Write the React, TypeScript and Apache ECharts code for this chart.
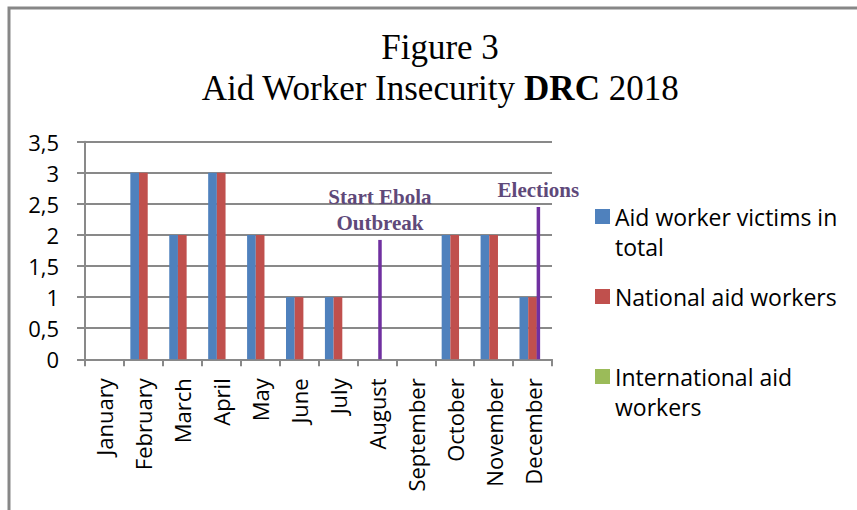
import React, { useEffect, useRef } from "react";
import * as echarts from "echarts";

// Monthly counts of aid worker victims, DRC 2018
const months = [
  "January", "February", "March", "April", "May", "June",
  "July", "August", "September", "October", "November", "December",
];
const victimsTotal = [0, 3, 2, 3, 2, 1, 1, 0, 0, 2, 2, 1];
const nationalWorkers = [0, 3, 2, 3, 2, 1, 1, 0, 0, 2, 2, 1];
const internationalWorkers = [0, 0, 0, 0, 0, 0, 0, 0, 0, 0, 0, 0];

const seriesNames = [
  "Aid worker victims in total",
  "National aid workers",
  "International aid workers",
];
const legendLabels = [
  "\nAid worker victims in\ntotal",
  "National aid workers",
  "\nInternational aid\nworkers",
];

// Event markers: position in month units along the axis, marker height, caption
const eventMonthPos = [7.58, 11.65];
const eventLevel = [1.92, 2.45];
const eventLabels = ["Start Ebola\nOutbreak", "Elections"];

const yTicks = { min: 0, max: 3.5, interval: 0.5 };

const SANS = "Open Sans";
const SERIF = "Liberation Serif";
const GRID_GRAY = "#898989";

export default function App() {
  const ref = useRef<HTMLDivElement>(null);

  useEffect(() => {
    if (!ref.current) return;
    const chart = echarts.init(ref.current, null, { renderer: "svg" });

    const eventData = eventMonthPos.map((p, i) => [p, eventLevel[i], i]);

    chart.setOption({
      animation: false,
      backgroundColor: "#ffffff",
      title: {
        text: "Figure 3\nAid Worker Insecurity {b|DRC} 2018",
        left: 440,
        top: 27,
        textAlign: "center",
        padding: 0,
        textStyle: {
          fontFamily: SERIF,
          fontSize: 35,
          fontWeight: "normal",
          color: "#000",
          lineHeight: 41,
          rich: {
            b: {
              fontFamily: SERIF,
              fontSize: 35,
              fontWeight: "bold",
              color: "#000",
              lineHeight: 41,
            },
          },
        },
      },
      graphic: [
        {
          type: "polyline",
          shape: { points: [[9, 510], [9, 8], [857, 8]] },
          style: { stroke: "#878787", lineWidth: 3, fill: "none" },
          silent: true,
        },
      ],
      legend: {
        data: seriesNames,
        orient: "vertical",
        left: 595,
        top: 171.5,
        itemWidth: 15,
        itemHeight: 15,
        itemGap: 20,
        icon: "rect",
        padding: 0,
        formatter: (name: string) => legendLabels[seriesNames.indexOf(name)],
        textStyle: {
          fontFamily: SANS,
          fontSize: 23,
          lineHeight: 30,
          color: "#000",
        },
      },
      grid: { left: 85, right: 305, top: 141.7, bottom: 150.7, containLabel: false },
      xAxis: [
        {
          type: "category",
          data: months,
          boundaryGap: true,
          axisLine: { show: true, lineStyle: { color: GRID_GRAY, width: 2 } },
          axisTick: { show: true, length: 7, lineStyle: { color: GRID_GRAY, width: 2 } },
          axisLabel: {
            rotate: 90,
            margin: 19,
            fontFamily: SANS,
            fontSize: 22,
            color: "#000",
            interval: 0,
          },
          splitLine: { show: false },
        },
        {
          type: "value",
          min: 0,
          max: 12,
          show: false,
          splitLine: { show: false },
        },
      ],
      yAxis: {
        type: "value",
        min: yTicks.min,
        max: yTicks.max,
        interval: yTicks.interval,
        axisLine: { show: true, lineStyle: { color: GRID_GRAY, width: 2 } },
        axisTick: { show: true, length: 8, lineStyle: { color: GRID_GRAY, width: 2 } },
        axisLabel: {
          margin: 26,
          fontFamily: SANS,
          fontSize: 22,
          color: "#000",
          formatter: (v: number) => String(v).replace(".", ","),
        },
        splitLine: { show: true, lineStyle: { color: GRID_GRAY, width: 2 } },
      },
      series: [
        {
          name: seriesNames[0],
          type: "bar",
          data: victimsTotal,
          itemStyle: { color: "#4F81BD" },
          barGap: "0%",
          barCategoryGap: "33%",
        },
        {
          name: seriesNames[1],
          type: "bar",
          data: nationalWorkers,
          itemStyle: { color: "#C0504D" },
          barGap: "0%",
          barCategoryGap: "33%",
        },
        {
          name: seriesNames[2],
          type: "bar",
          data: internationalWorkers,
          itemStyle: { color: "#9BBB59" },
          barGap: "0%",
          barCategoryGap: "33%",
        },
        {
          name: "events",
          type: "custom",
          xAxisIndex: 1,
          yAxisIndex: 0,
          data: eventData,
          clip: false,
          z: 5,
          renderItem: (_params: any, api: any) => {
            const x = api.value(0);
            const base = api.coord([x, 0]);
            const top = api.coord([x, api.value(1)]);
            const idx = api.value(2);
            return {
              type: "group",
              children: [
                {
                  type: "line",
                  shape: { x1: base[0], y1: base[1], x2: top[0], y2: top[1] },
                  style: { stroke: "#7030A0", lineWidth: 3.5 },
                },
                {
                  type: "text",
                  x: top[0],
                  y: top[1] - 4,
                  style: {
                    text: eventLabels[idx],
                    align: "center",
                    verticalAlign: "bottom",
                    fontFamily: SERIF,
                    fontWeight: "bold",
                    fontSize: 21,
                    lineHeight: 26,
                    fill: "#5F497A",
                  },
                },
              ],
            };
          },
        },
      ],
    });

    return () => chart.dispose();
  }, []);

  return (
    <div
      ref={ref}
      style={{ position: "fixed", left: 0, top: 0, width: 857, height: 510 }}
    />
  );
}
